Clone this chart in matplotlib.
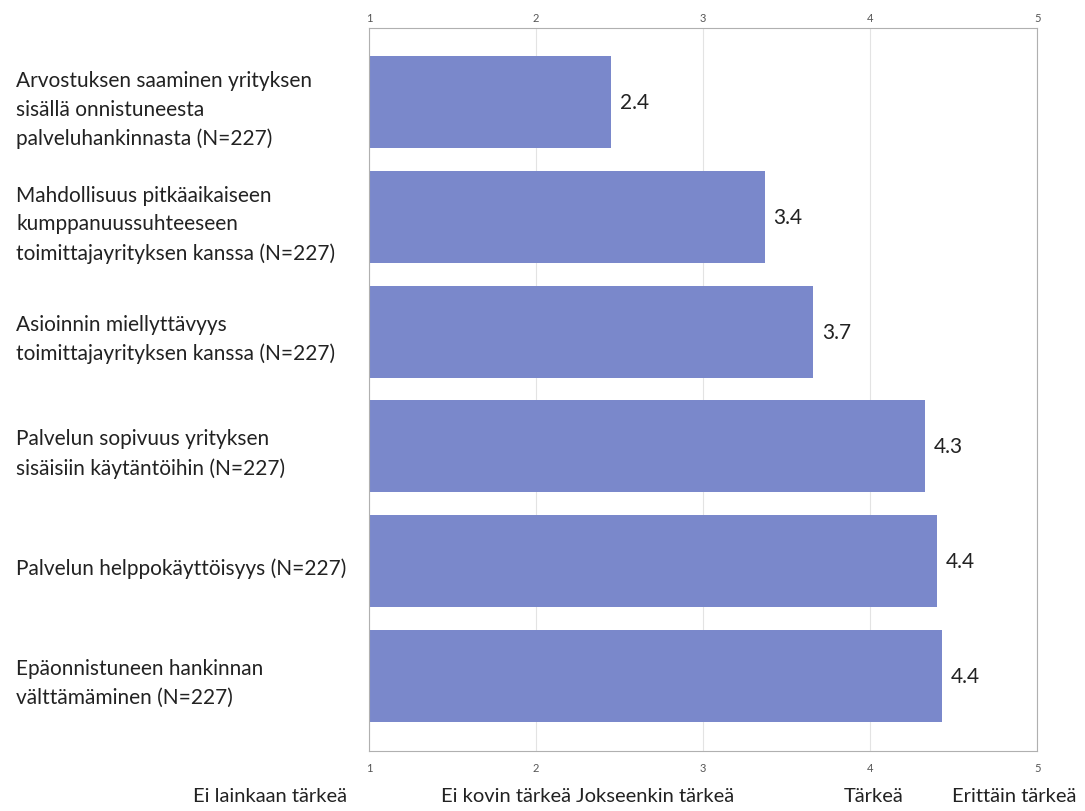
import matplotlib.pyplot as plt
from matplotlib import transforms

# ---------- data ----------
CATEGORIES = [
    "Arvostuksen saaminen yrityksen\nsisällä onnistuneesta\npalveluhankinnasta (N=227)",
    "Mahdollisuus pitkäaikaiseen\nkumppanuussuhteeseen\ntoimittajayrityksen kanssa (N=227)",
    "Asioinnin miellyttävyys\ntoimittajayrityksen kanssa (N=227)",
    "Palvelun sopivuus yrityksen\nsisäisiin käytäntöihin (N=227)",
    "Palvelun helppokäyttöisyys (N=227)",
    "Epäonnistuneen hankinnan\nvälttämäminen (N=227)",
]
VALUES = [2.45, 3.37, 3.66, 4.33, 4.40, 4.43]
VALUE_LABELS = ["2.4", "3.4", "3.7", "4.3", "4.4", "4.4"]
TICKS = [1, 2, 3, 4, 5]
SCALE_LABELS = ["Ei lainkaan tärkeä", "Ei kovin tärkeä", "Jokseenkin tärkeä", "Tärkeä", "Erittäin tärkeä"]
SCALE_LABEL_X = [0.41, 1.82, 2.71, 4.02, 4.86]   # where the scale words sit (data x)

BAR_COLOR = "#7a88cb"
FONT = ["Lato", "DejaVu Sans"]

plt.rcParams["font.family"] = FONT

fig = plt.figure(figsize=(10.85, 8.12), dpi=100)
ax = fig.add_axes([0.340, 0.074, 0.616, 0.890])

y = list(range(len(CATEGORIES)))
ax.barh(y, [v - 1 for v in VALUES], left=1, height=0.80, color=BAR_COLOR, zorder=2)

ax.set_xlim(1, 5)
ax.set_ylim(len(CATEGORIES) - 0.345, -0.645)
ax.set_xticks(TICKS)
ax.set_xticklabels([str(t) for t in TICKS])
ax.tick_params(axis="x", which="both", length=0, labelsize=8, labelcolor="#555555",
               top=True, labeltop=True, bottom=True, labelbottom=True, pad=7)
ax.tick_params(axis="x", which="both", labeltop=True, pad=4)
for t in ax.xaxis.get_major_ticks():
    t.label1.set_y(-0.008)
ax.set_yticks([])
ax.grid(axis="x", color="#e3e3e3", linewidth=0.8, zorder=0)
for s in ax.spines.values():
    s.set_color("#b0b0b0")
    s.set_linewidth(0.8)

# value labels
for yi, v, lab in zip(y, VALUES, VALUE_LABELS):
    ax.annotate(lab, xy=(v, yi), xytext=(6, 0), textcoords="offset points",
                ha="left", va="center", fontsize=15, color="#222222")

# category labels on the left
trans = transforms.blended_transform_factory(fig.transFigure, ax.transData)
for yi, lab in zip(y, CATEGORIES):
    ax.text(0.015, yi + 0.06, lab, transform=trans, ha="left", va="center",
            fontsize=15, color="#222222", linespacing=1.55)

# scale words under the axis
trans2 = transforms.blended_transform_factory(ax.transData, fig.transFigure)
for xi, lab in zip(SCALE_LABEL_X, SCALE_LABELS):
    ax.text(xi, 0.019, lab, transform=trans2, ha="center", va="center",
            fontsize=14.5, color="#222222", clip_on=False)

plt.savefig("out.png", dpi=100)
